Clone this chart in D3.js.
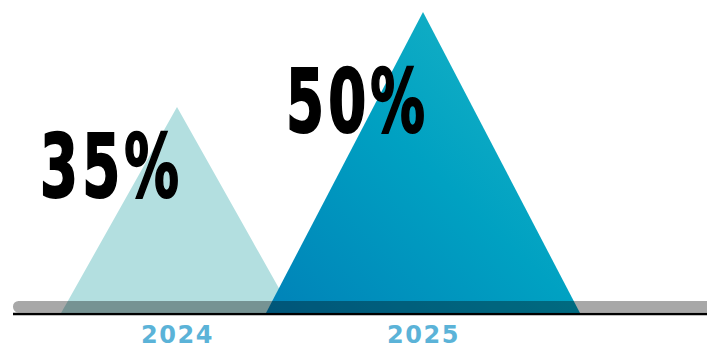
<!DOCTYPE html>
<html>
<head>
<meta charset="utf-8">
<script src="https://cdn.jsdelivr.net/npm/d3@7"></script>
<style>
  body { margin: 0; background: #fff; }
  svg { display: block; }
</style>
</head>
<body>
<svg id="chart" width="707" height="349"></svg>
<script>
// data
var years = ["2024", "2025"];
var values = [35, 50];
var valueLabels = ["35%", "50%"];

var svg = d3.select("#chart"),
  width = 707,
  height = 349,
  baseY = 313;

var x = d3.scalePoint().domain(years).range([54, 546]).padding(0.5);
// apex height
var y = d3.scaleLinear().domain([0, 50]).range([329, 12]);
// half width of each triangle at the base line
var halfW = d3.scaleLinear().domain([0, 50]).range([20, 157]);
// baseline of the big percent labels
var labelY = d3.scaleLinear().domain([0, 50]).range([349, 132]);

var defs = svg.append("defs");
var grad = defs.append("linearGradient")
  .attr("id", "darkGrad")
  .attr("x1", 0).attr("y1", 1)
  .attr("x2", 1).attr("y2", 0);
grad.append("stop").attr("offset", 0).attr("stop-color", "#0082b8");
grad.append("stop").attr("offset", 0.5).attr("stop-color", "#00a1c2");
grad.append("stop").attr("offset", 1).attr("stop-color", "#1eb7c6");

var fills = ["#b3dfe0", "url(#darkGrad)"];

var data = years.map(function (d, i) {
  return { year: d, value: values[i], label: valueLabels[i], fill: fills[i] };
});

svg.selectAll("path.tri")
  .data(data)
  .enter()
  .append("path")
  .attr("class", "tri")
  .attr("fill", function (d) { return d.fill; })
  .attr("d", function (d) {
    var cx = x(d.year), hw = halfW(d.value);
    return "M" + (cx - hw) + "," + baseY +
      "L" + cx + "," + y(d.value) +
      "L" + (cx + hw) + "," + baseY + "Z";
  });

// translucent grey track over the triangles
svg.append("rect")
  .attr("x", 13)
  .attr("y", 301)
  .attr("width", width + 20)
  .attr("height", 11.5)
  .attr("rx", 5.5)
  .attr("fill", "rgba(0,0,0,0.34)");

svg.append("line")
  .attr("x1", 13).attr("x2", width)
  .attr("y1", 314).attr("y2", 314)
  .attr("stroke", "#000")
  .attr("stroke-width", 2.5);

// year labels
var axis = svg.append("g")
  .attr("transform", "translate(0," + 314 + ")")
  .call(d3.axisBottom(x).tickSize(0).tickPadding(12));
axis.select(".domain").remove();
axis.selectAll("text")
  .attr("fill", "#5bb3d8")
  .style("font-family", "'DejaVu Sans', sans-serif")
  .style("font-weight", "bold")
  .style("font-size", "24px")
  .style("letter-spacing", "1.5px");

// big percentages
svg.selectAll("text.pct")
  .data(data)
  .enter()
  .append("text")
  .attr("class", "pct")
  .attr("transform", function (d) {
    return "translate(" + (x(d.year) - 137) + "," + labelY(d.value) + ") scale(0.69,1)";
  })
  .attr("fill", "#000")
  .attr("stroke", "#000")
  .attr("stroke-width", 2)
  .style("font-family", "'DejaVu Sans Condensed', sans-serif")
  .style("font-weight", "bold")
  .style("font-size", "88px")
  .style("letter-spacing", "6px")
  .text(function (d) { return d.label; });
</script>
</body>
</html>
